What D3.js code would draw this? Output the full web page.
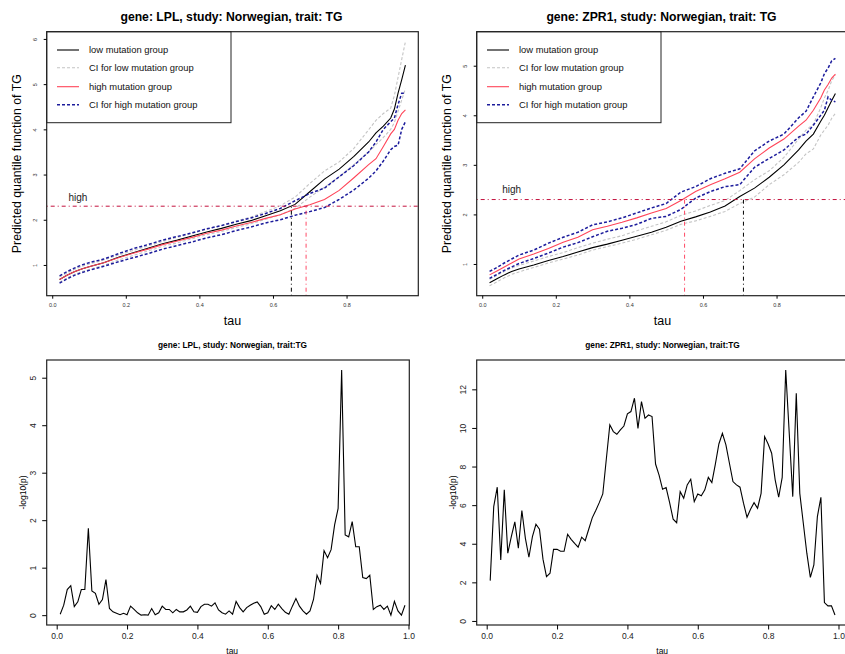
<!DOCTYPE html>
<html>
<head>
<meta charset="utf-8">
<script src="https://cdn.jsdelivr.net/npm/d3@7"></script>
<style>
  body { margin: 0; background: #fff; }
  svg { font-family: "Liberation Sans", Arial, sans-serif; }
</style>
</head>
<body>
<svg id="chart" width="845" height="654"></svg>
<script>
// tau grid for the quantile curves
const tauQ = [0.02,0.04,0.06,0.08,0.10,0.14,0.18,0.22,0.26,0.30,0.34,0.38,0.42,0.46,0.50,0.54,0.58,0.62,0.66,0.70,0.74,0.78,0.82,0.86,0.88,0.90,0.92,0.93,0.94,0.95,0.96];

// LPL predicted quantile curves
const lplLow   = [0.68,0.77,0.85,0.91,0.96,1.05,1.17,1.27,1.37,1.47,1.55,1.64,1.73,1.81,1.90,1.98,2.09,2.20,2.34,2.62,2.90,3.12,3.40,3.72,3.92,4.07,4.25,4.45,4.80,5.10,5.42];
const lplLowUp = [0.74,0.82,0.90,0.97,1.02,1.11,1.22,1.32,1.42,1.52,1.61,1.70,1.79,1.88,1.97,2.06,2.18,2.31,2.50,2.80,3.08,3.28,3.58,3.99,4.20,4.35,4.47,4.75,5.15,5.55,5.94];
const lplLowLo = [0.62,0.71,0.79,0.85,0.90,0.99,1.11,1.21,1.31,1.41,1.49,1.58,1.67,1.74,1.83,1.91,2.01,2.11,2.25,2.50,2.72,2.95,3.22,3.50,3.66,3.82,4.00,4.15,4.40,4.65,4.90];
const lplHigh  = [0.68,0.77,0.85,0.91,0.96,1.05,1.16,1.26,1.35,1.45,1.53,1.61,1.70,1.77,1.86,1.94,2.03,2.11,2.24,2.33,2.45,2.65,2.93,3.22,3.35,3.62,3.90,4.00,4.20,4.35,4.43];
const lplHighUp= [0.76,0.85,0.93,1.00,1.05,1.13,1.25,1.36,1.45,1.55,1.63,1.71,1.80,1.87,1.96,2.04,2.14,2.25,2.42,2.58,2.70,2.95,3.20,3.50,3.72,4.00,4.17,4.25,4.55,4.80,4.80];
const lplHighLo= [0.60,0.69,0.77,0.83,0.88,0.97,1.07,1.16,1.25,1.35,1.43,1.51,1.60,1.67,1.76,1.84,1.93,2.00,2.10,2.18,2.27,2.45,2.66,2.92,3.08,3.30,3.55,3.62,3.65,4.00,4.17];

// ZPR1 predicted quantile curves
const zprLow   = [0.62,0.70,0.78,0.85,0.90,0.98,1.07,1.15,1.24,1.33,1.40,1.48,1.56,1.64,1.74,1.86,1.95,2.05,2.17,2.36,2.53,2.75,3.00,3.30,3.48,3.62,3.88,4.00,4.15,4.30,4.44];
const zprLowUp = [0.69,0.77,0.85,0.92,0.97,1.06,1.15,1.23,1.33,1.42,1.50,1.57,1.67,1.76,1.85,1.98,2.07,2.18,2.28,2.48,2.70,2.88,3.15,3.52,3.70,3.82,4.15,4.35,4.50,4.70,4.81];
const zprLowLo = [0.56,0.64,0.72,0.79,0.84,0.93,1.02,1.10,1.18,1.28,1.35,1.42,1.50,1.59,1.68,1.80,1.87,1.96,2.06,2.22,2.35,2.60,2.80,3.05,3.22,3.32,3.60,3.70,3.80,3.94,4.04];
const zprHigh  = [0.78,0.86,0.94,1.02,1.10,1.20,1.31,1.44,1.54,1.69,1.76,1.84,1.93,2.03,2.12,2.28,2.46,2.60,2.72,2.85,3.12,3.34,3.52,3.78,3.90,4.10,4.35,4.51,4.62,4.75,4.83];
const zprHighUp= [0.85,0.93,1.02,1.10,1.18,1.28,1.42,1.54,1.64,1.79,1.85,1.93,2.03,2.13,2.22,2.45,2.56,2.72,2.83,2.92,3.28,3.48,3.62,3.95,4.08,4.37,4.65,4.84,4.95,5.10,5.15];
const zprHighLo= [0.71,0.79,0.87,0.94,1.01,1.11,1.22,1.34,1.43,1.55,1.66,1.72,1.80,1.92,1.96,2.10,2.33,2.46,2.56,2.60,2.95,3.13,3.30,3.56,3.62,3.80,4.00,4.10,4.37,4.30,4.27];

// horizontal cut value and where each curve reaches it
const cutValue = 2.3;
const lplCross = [0.65, 0.69];   // low, high
const zprCross = [0.71, 0.55];   // low, high

// -log10(p) along tau
const tauP = d3.range(1, 100).map(i => i / 100);
const lplP = [0.02,0.21,0.54,0.62,0.18,0.28,0.54,0.54,1.83,0.51,0.46,0.23,0.33,0.75,0.14,0.07,0.04,0.01,0.04,0.01,
              0.19,0.12,0.05,0.00,0.01,0.00,0.14,0.01,0.05,0.19,0.12,0.12,0.05,0.12,0.07,0.07,0.11,0.19,0.07,0.06,
              0.18,0.23,0.23,0.19,0.26,0.11,0.05,0.02,0.09,0.02,0.29,0.16,0.07,0.16,0.21,0.25,0.28,0.18,0.02,0.05,
              0.20,0.12,0.23,0.14,0.06,0.02,0.19,0.35,0.19,0.09,0.02,0.09,0.33,0.84,0.67,1.36,1.21,1.38,1.90,2.25,
              5.16,1.69,1.65,1.97,1.44,1.44,0.79,0.77,0.84,0.12,0.18,0.21,0.12,0.19,0.00,0.29,0.09,0.00,0.21];
const zprP = [2.09,5.92,6.93,3.16,6.79,3.51,4.37,5.13,3.77,5.72,4.28,3.30,4.37,5.01,4.75,3.20,2.30,2.47,3.71,3.71,
              3.61,3.61,4.49,4.23,4.02,3.82,4.34,4.16,4.75,5.34,5.72,6.13,6.58,8.38,10.16,9.81,9.67,9.90,10.10,10.73,
              10.85,11.54,9.98,11.36,10.50,10.67,10.59,8.13,7.56,6.82,6.91,6.13,5.27,5.09,6.70,6.36,7.05,7.34,6.18,6.58,
              6.49,6.79,7.44,7.17,8.13,9.17,9.72,9.12,8.17,7.22,7.05,6.93,6.10,5.37,5.79,6.13,5.84,6.61,9.55,9.17,
              8.69,7.31,6.41,7.44,13.0,9.72,6.44,11.8,6.61,5.06,3.51,2.26,2.90,5.41,6.41,0.95,0.78,0.78,0.31];

const legendLabels = ["low mutation group", "CI for low mutation group", "high mutation group", "CI for high mutation group"];

const svg = d3.select("#chart");
const font = "Liberation Sans, Arial, sans-serif";

// rotated y tick labels, R style
function rotateYLabels(g, off) {
  g.selectAll(".tick text")
    .attr("x", 0).attr("dx", null).attr("dy", null)
    .attr("text-anchor", "middle")
    .attr("transform", `translate(${-off},0) rotate(-90)`);
}

function quantilePanel(opts) {
  const { left, title, yDomain, yTicks, series, cross, highTau } = opts;
  const top = 31.7, bottom = 295.7, right = left + 371.6;
  const x = d3.scaleLinear().domain([-0.015, 0.995]).range([left, right]);
  const y = d3.scaleLinear().domain(yDomain).range([bottom, top]);
  const g = svg.append("g");

  const clipId = "clip" + Math.round(left);
  svg.append("clipPath").attr("id", clipId)
    .append("rect").attr("x", left).attr("y", top).attr("width", right - left).attr("height", bottom - top);
  const plot = g.append("g").attr("clip-path", `url(#${clipId})`);

  const line = d3.line().x((d, i) => x(tauQ[i])).y(d => y(d));
  const styles = [
    { data: series[0], color: "#000", w: 1.1, dash: null },
    { data: series[1], color: "#c4c4c4", w: 1.1, dash: "3,2" },
    { data: series[2], color: "#c4c4c4", w: 1.1, dash: "3,2" },
    { data: series[3], color: "#ff4458", w: 1.1, dash: null },
    { data: series[4], color: "#1c1c9c", w: 1.5, dash: "3,2" },
    { data: series[5], color: "#1c1c9c", w: 1.5, dash: "3,2" }
  ];
  styles.forEach(s => {
    plot.append("path").attr("d", line(s.data))
      .attr("fill", "none").attr("stroke", s.color).attr("stroke-width", s.w)
      .attr("stroke-dasharray", s.dash);
  });

  // cut line and crossing markers
  plot.append("line")
    .attr("x1", left).attr("x2", right).attr("y1", y(cutValue)).attr("y2", y(cutValue))
    .attr("stroke", "#c4123e").attr("stroke-width", 1).attr("stroke-dasharray", "1,3,4,3");
  [["#000", cross[0]], ["#ff4a66", cross[1]]].forEach(([c, t]) => {
    plot.append("line")
      .attr("x1", x(t)).attr("x2", x(t)).attr("y1", bottom).attr("y2", y(cutValue))
      .attr("stroke", c).attr("stroke-width", 1).attr("stroke-dasharray", "1,3,4,3");
  });
  g.append("text").attr("x", x(highTau)).attr("y", y(2.5)).attr("dy", "0.35em")
    .attr("text-anchor", "middle").attr("font-size", 10).attr("fill", "#222").text("high");

  // legend
  const lg = g.append("g");
  lg.append("rect").attr("x", left).attr("y", top).attr("width", 184.3).attr("height", 91)
    .attr("fill", "#fff").attr("stroke", "#222").attr("stroke-width", 1);
  const legStyles = [styles[0], styles[1], styles[3], styles[4]];
  legendLabels.forEach((lab, i) => {
    const ly = top + [18.3, 36, 55, 73][i];
    lg.append("line").attr("x1", left + 10.3).attr("x2", left + 32.3).attr("y1", ly).attr("y2", ly)
      .attr("stroke", legStyles[i].color).attr("stroke-width", legStyles[i].w)
      .attr("stroke-dasharray", legStyles[i].dash);
    lg.append("text").attr("x", left + 42.3).attr("y", ly).attr("dy", "0.35em")
      .attr("font-size", 9.4).attr("fill", "#111").text(lab);
  });

  // box and axes
  g.append("rect").attr("x", left).attr("y", top).attr("width", right - left).attr("height", bottom - top)
    .attr("fill", "none").attr("stroke", "#222").attr("stroke-width", 1.2);
  const xa = g.append("g").attr("transform", `translate(0,${bottom})`)
    .call(d3.axisBottom(x).tickValues([0, 0.2, 0.4, 0.6, 0.8]).tickFormat(d3.format(".1f")).tickSize(3).tickPadding(4));
  xa.select(".domain").remove();
  xa.selectAll("text").attr("font-size", 5.5).attr("font-family", font).attr("fill", "#333");
  const ya = g.append("g").attr("transform", `translate(${left},0)`)
    .call(d3.axisLeft(y).tickValues(yTicks).tickFormat(d3.format("d")).tickSize(3));
  ya.select(".domain").remove();
  ya.selectAll("text").attr("font-size", 5.5).attr("font-family", font).attr("fill", "#333");
  rotateYLabels(ya, 9.5);

  g.append("text").attr("x", (left + right) / 2 - 1).attr("y", 21).attr("text-anchor", "middle")
    .attr("font-size", 12.2).attr("font-weight", "bold").text(title);
  g.append("text").attr("x", (left + right) / 2).attr("y", 324.5).attr("text-anchor", "middle")
    .attr("font-size", 12.5).text("tau");
  g.append("text").attr("transform", `translate(${left - 25.5},${(top + bottom) / 2}) rotate(-90)`)
    .attr("text-anchor", "middle").attr("font-size", 12.3).text("Predicted quantile function of TG");
}

function pvalPanel(opts) {
  const { left, title, values, yDomain, yTicks, boxW } = opts;
  const top = 360, bottom = 625, right = left + 362.6;
  const x = d3.scaleLinear().domain([-0.0284, 1.0023]).range([left, right]);
  const y = d3.scaleLinear().domain(yDomain).range([bottom, top]);
  const g = svg.append("g");

  g.append("path").attr("d", d3.line().x((d, i) => x(tauP[i])).y(d => y(d))(values))
    .attr("fill", "none").attr("stroke", "#000").attr("stroke-width", 1.1);

  g.append("rect").attr("x", left).attr("y", top).attr("width", boxW).attr("height", bottom - top)
    .attr("fill", "none").attr("stroke", "#222").attr("stroke-width", 1.2);
  const xa = g.append("g").attr("transform", `translate(0,${bottom})`)
    .call(d3.axisBottom(x).tickValues([0, 0.2, 0.4, 0.6, 0.8, 1.0]).tickFormat(d3.format(".1f")).tickSize(4.5).tickPadding(3));
  xa.select(".domain").remove();
  xa.selectAll("text").attr("font-size", 8.5).attr("font-family", font).attr("fill", "#222");
  const ya = g.append("g").attr("transform", `translate(${left},0)`)
    .call(d3.axisLeft(y).tickValues(yTicks).tickFormat(d3.format("d")).tickSize(4.5));
  ya.select(".domain").remove();
  ya.selectAll("text").attr("font-size", 8.5).attr("font-family", font).attr("fill", "#222");
  rotateYLabels(ya, 11);

  g.append("text").attr("x", left + 185.8).attr("y", 348).attr("text-anchor", "middle")
    .attr("font-size", 8.3).attr("font-weight", "bold").text(title);
  g.append("text").attr("x", left + 185.5).attr("y", 653.5).attr("text-anchor", "middle")
    .attr("font-size", 8.5).text("tau");
  g.append("text").attr("transform", `translate(${left - 24},${(top + bottom) / 2}) rotate(-90)`)
    .attr("dy", "0.35em").attr("text-anchor", "middle").attr("font-size", 8.5).text("-log10(p)");
}

quantilePanel({
  left: 46.7, title: "gene: LPL, study: Norwegian, trait: TG",
  yDomain: [0.32, 6.16], yTicks: [1, 2, 3, 4, 5, 6],
  series: [lplLow, lplLowUp, lplLowLo, lplHigh, lplHighUp, lplHighLo],
  cross: lplCross, highTau: 0.07
});
quantilePanel({
  left: 476.7, title: "gene: ZPR1, study: Norwegian, trait: TG",
  yDomain: [0.36, 5.686], yTicks: [1, 2, 3, 4, 5],
  series: [zprLow, zprLowUp, zprLowLo, zprHigh, zprHighUp, zprHighLo],
  cross: zprCross, highTau: 0.08
});
pvalPanel({
  left: 46.7, title: "gene: LPL, study: Norwegian, trait:TG",
  values: lplP, yDomain: [-0.207, 5.373], yTicks: [0, 1, 2, 3, 4, 5], boxW: 362.6
});
pvalPanel({
  left: 476.7, title: "gene: ZPR1, study: Norwegian, trait:TG",
  values: zprP, yDomain: [-0.21, 13.52], yTicks: [0, 2, 4, 6, 8, 10, 12], boxW: 372
});
</script>
</body>
</html>
